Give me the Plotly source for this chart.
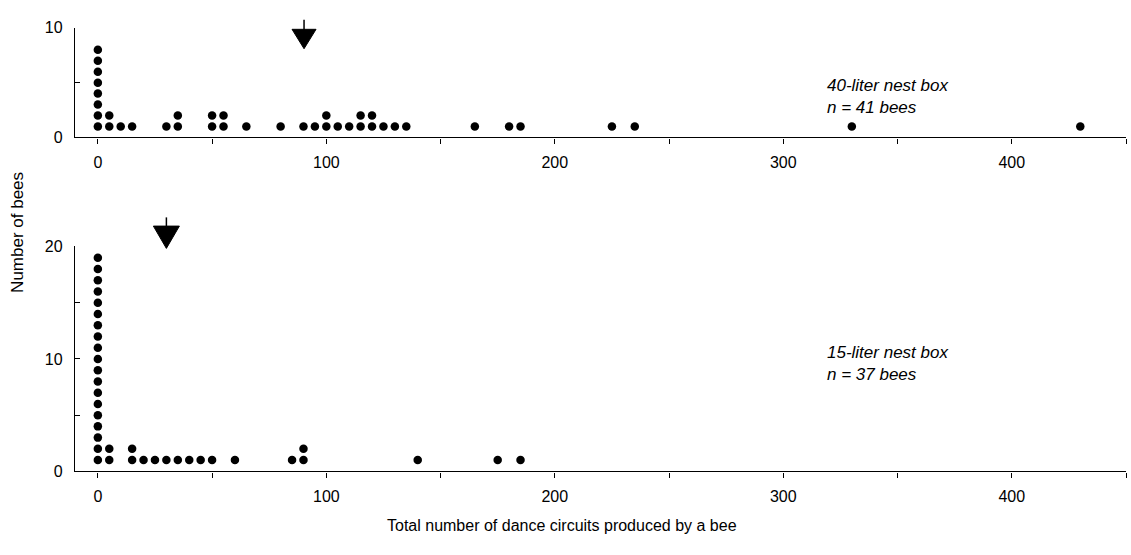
import plotly.graph_objects as go

# ---- data ----
top_circuits = [0, 5, 10, 15, 30, 35, 50, 55, 65, 80, 90, 95, 100, 105, 110, 115, 120,
                125, 130, 135, 165, 180, 185, 225, 235, 330, 430]
top_counts = [8, 2, 1, 1, 1, 2, 2, 2, 1, 1, 1, 1, 2, 1, 1, 2, 2,
              1, 1, 1, 1, 1, 1, 1, 1, 1, 1]
bottom_circuits = [0, 5, 15, 20, 25, 30, 35, 40, 45, 50, 60, 85, 90, 140, 175, 185]
bottom_counts = [19, 2, 2, 1, 1, 1, 1, 1, 1, 1, 1, 1, 2, 1, 1, 1]

top_label = ["40-liter nest box", "n = 41 bees"]
bottom_label = ["15-liter nest box", "n = 37 bees"]
x_ticks = [0, 100, 200, 300, 400]
x_minor = [50, 150, 250, 350, 450]

W, H = 1131, 555
FONT = "Liberation Sans, Arial, Helvetica, sans-serif"
X_RANGE = [-10, 450]
X_PX = [75, 1126]
PX_PER_UNIT = (X_PX[1] - X_PX[0]) / (X_RANGE[1] - X_RANGE[0])


def stack(circuits, counts):
    xs, ys = [], []
    for v, c in zip(circuits, counts):
        for k in range(1, c + 1):
            xs.append(v)
            ys.append(k)
    return xs, ys


def mean(circuits, counts):
    return sum(v * c for v, c in zip(circuits, counts)) / sum(counts)


def px_x(p):
    return p / W


def px_y(p):
    return (H - p) / H


fig = go.Figure()

tx, ty = stack(top_circuits, top_counts)
bx, by = stack(bottom_circuits, bottom_counts)
dot = dict(color="black", size=8.5, line=dict(width=0))
fig.add_trace(go.Scatter(x=tx, y=ty, mode="markers", marker=dot, xaxis="x", yaxis="y",
                         showlegend=False, hoverinfo="skip"))
fig.add_trace(go.Scatter(x=bx, y=by, mode="markers", marker=dot, xaxis="x2", yaxis="y2",
                         showlegend=False, hoverinfo="skip"))

# mean arrows (stem + filled head), x from the data mean, y in page pixels
shapes = []
for m, xr, stem_top, head_top, head_tip, half_w in [
    (mean(top_circuits, top_counts), "x", 12, 22, 42, 12),
    (mean(bottom_circuits, bottom_counts), "x2", 216, 225, 248, 13),
]:
    hw = half_w / PX_PER_UNIT
    shapes.append(dict(type="line", xref=xr, yref="paper", x0=m, x1=m,
                       y0=px_y(stem_top), y1=px_y(head_top + 4),
                       line=dict(color="black", width=1.5)))
    path = "M %f,%f L %f,%f L %f,%f Z" % (m - hw, px_y(head_top), m + hw, px_y(head_top),
                                          m, px_y(head_tip))
    shapes.append(dict(type="path", xref=xr, yref="paper", path=path,
                       fillcolor="black", line=dict(color="black", width=1)))

xdom = [px_x(X_PX[0]), px_x(X_PX[1])]
tickfont = dict(family=FONT, size=16, color="black")


def xaxis(anchor):
    return dict(domain=xdom, range=X_RANGE, anchor=anchor, showgrid=False, zeroline=False,
                showline=True, linecolor="black", linewidth=1.4,
                tickmode="array", tickvals=x_ticks, ticks="outside", ticklen=5,
                tickwidth=1.2, tickcolor="black", tickfont=tickfont, ticklabelstandoff=5,
                minor=dict(tickmode="array", tickvals=x_minor, ticks="outside", ticklen=5,
                           tickwidth=1.2, tickcolor="black"))


def yaxis(anchor, dom, rng, tv, mv):
    return dict(domain=dom, range=rng, anchor=anchor, showgrid=False, zeroline=False,
                showline=True, linecolor="black", linewidth=1.4,
                tickmode="array", tickvals=tv, ticks="inside", ticklen=5,
                tickwidth=1.2, tickcolor="black", tickfont=tickfont, ticklabelstandoff=8,
                minor=dict(tickmode="array", tickvals=mv, ticks="inside", ticklen=5,
                           tickwidth=1.2, tickcolor="black"))


fig.update_layout(
    width=W, height=H,
    margin=dict(l=0, r=0, t=0, b=0),
    paper_bgcolor="white", plot_bgcolor="white",
    xaxis=xaxis("y"),
    yaxis=yaxis("x", [px_y(133.5), px_y(20.5)], [0, 10], [0, 10], [5]),
    xaxis2=xaxis("y2"),
    yaxis2=yaxis("x2", [px_y(478), px_y(246)], [0, 20], [0, 10, 20], [5, 15]),
    shapes=shapes,
)

annots = []
for lines, ys in [(top_label, [80, 103]), (bottom_label, [355, 378])]:
    for t, yy in zip(lines, ys):
        annots.append(dict(text="<i>%s</i>" % t, x=px_x(825), y=px_y(yy), xref="paper",
                           yref="paper", xanchor="left", yanchor="middle", showarrow=False,
                           font=dict(family=FONT, size=17, color="black")))
annots.append(dict(text="Number of bees", x=px_x(18), y=px_y(232), xref="paper", yref="paper",
                   textangle=-90, showarrow=False, xanchor="center", yanchor="middle",
                   font=dict(family=FONT, size=17, color="black")))
annots.append(dict(text="Total number of dance circuits produced by a bee", x=px_x(562),
                   y=px_y(534), xref="paper", yref="paper", showarrow=False,
                   xanchor="center", yanchor="middle",
                   font=dict(family=FONT, size=16, color="black")))
fig.update_layout(annotations=annots)

fig.write_html("out.html")
